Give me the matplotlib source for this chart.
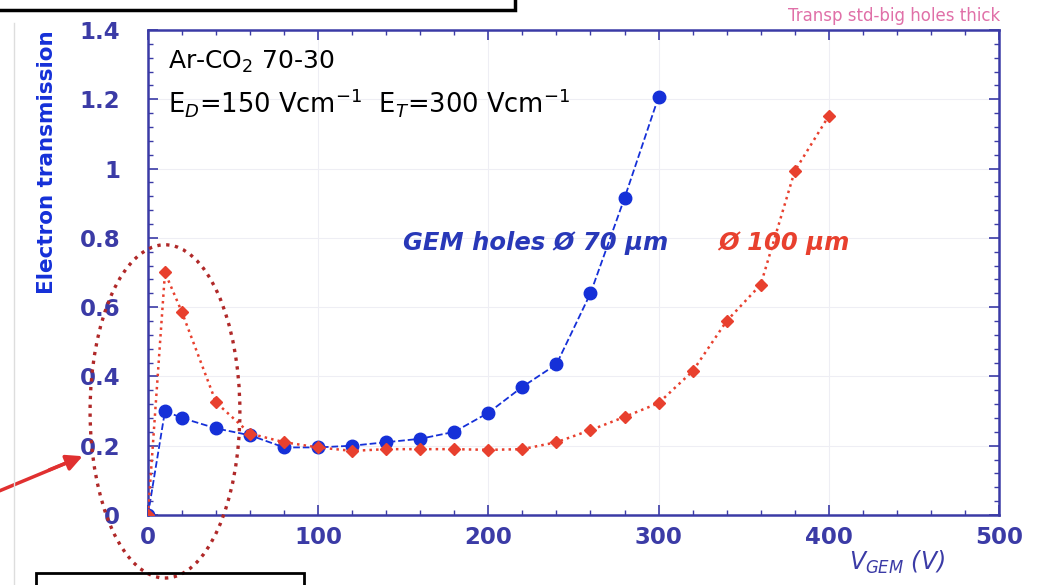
import matplotlib.pyplot as plt
from matplotlib.patches import Ellipse
from matplotlib.ticker import MultipleLocator

# V_GEM (V)
v_blue = [0, 10, 20, 40, 60, 80, 100, 120, 140, 160, 180, 200, 220, 240, 260, 280, 300]
t_blue = [0, 0.30, 0.28, 0.25, 0.23, 0.195, 0.195, 0.20, 0.21, 0.22, 0.24, 0.295, 0.37, 0.435, 0.64, 0.915, 1.207]

v_red = [0, 10, 20, 40, 60, 80, 100, 120, 140, 160, 180, 200, 220, 240, 260, 280, 300,
         320, 340, 360, 380, 400]
t_red = [0, 0.70, 0.585, 0.325, 0.235, 0.21, 0.195, 0.185, 0.19, 0.19, 0.19, 0.188, 0.19,
         0.21, 0.245, 0.283, 0.323, 0.415, 0.56, 0.665, 0.993, 1.152]

navy = '#3b3ba6'
blue = '#1530d8'
red = '#e8402e'

fig = plt.figure(figsize=(10.39, 5.85), dpi=100)
ax = fig.add_axes([0.1424, 0.1197, 0.8191, 0.829])

ax.plot(v_blue, t_blue, '--', color=blue, lw=1.3, marker='o', ms=9, zorder=3)
ax.plot(v_red, t_red, ':', color=red, lw=1.8, marker='D', ms=6, zorder=4)

ax.set_xlim(0, 500)
ax.set_ylim(0, 1.4)
ax.xaxis.set_major_locator(MultipleLocator(100))
ax.xaxis.set_minor_locator(MultipleLocator(20))
ax.yaxis.set_major_locator(MultipleLocator(0.2))
ax.yaxis.set_minor_locator(MultipleLocator(0.04))
ax.set_yticks([0, 0.2, 0.4, 0.6, 0.8, 1.0, 1.2, 1.4])
ax.set_yticklabels(['0', '0.2', '0.4', '0.6', '0.8', '1', '1.2', '1.4'])
ax.tick_params(which='both', direction='in', top=True, right=True, colors=navy)
ax.tick_params(which='major', length=7, width=1.2, labelsize=16.5)
ax.tick_params(axis='y', which='major', pad=20)
ax.tick_params(axis='x', which='major', pad=8)
ax.tick_params(which='minor', length=3.5, width=1)
for lab in ax.get_xticklabels() + ax.get_yticklabels():
    lab.set_fontweight('bold')
    lab.set_color(navy)
for s in ax.spines.values():
    s.set_color(navy)
    s.set_linewidth(1.8)
ax.grid(True, which='major', color='#eeeef4', lw=0.8)
ax.set_axisbelow(True)

fig.text(0.045, 0.723, 'Electron transmission', rotation=90, ha='center', va='center',
         fontsize=15.5, fontweight='bold', color=blue)
ax.text(0.88, -0.097, r'$V_{GEM}$ (V)', transform=ax.transAxes, ha='center', va='center',
        fontsize=17, color=navy, style='italic')

ax.text(0.024, 0.935, r'Ar-CO$_{2}$ 70-30', transform=ax.transAxes, fontsize=18, va='center')
ax.text(0.024, 0.85, r'E$_{D}$=150 Vcm$^{-1}$  E$_{T}$=300 Vcm$^{-1}$', transform=ax.transAxes,
        fontsize=18.5, va='center')
ax.text(0.3, 0.56, 'GEM holes Ø 70 μm', transform=ax.transAxes, fontsize=17.5,
        fontweight='bold', style='italic', color='#2838b8', va='center')
ax.text(0.67, 0.56, 'Ø 100 μm', transform=ax.transAxes, fontsize=17.5,
        fontweight='bold', style='italic', color=red, va='center')
fig.text(0.963, 0.973, 'Transp std-big holes thick', fontsize=12, color='#e070a8', ha='right', va='center')

# highlighted region
ell = Ellipse((10, 0.299), 88, 0.962, fill=False, ec='#b02828', ls=':', lw=2.4, clip_on=False, zorder=5)
ax.add_patch(ell)
fig.add_artist(plt.Line2D([0.001, 0.07], [0.162, 0.213], color='#e03030', lw=2.5))
ax.annotate('', xy=(0.082, 0.222), xytext=(0.045, 0.195), xycoords='figure fraction',
            textcoords='figure fraction',
            arrowprops=dict(arrowstyle='-|>', color='#e03030', lw=2.5, mutation_scale=24))

# slide boxes
fig.add_artist(plt.Rectangle((-0.01, 0.983), 0.506, 0.05, fill=False, ec='black', lw=2.5,
                             transform=fig.transFigure))
fig.add_artist(plt.Rectangle((0.035, -0.05), 0.258, 0.07, fill=False, ec='black', lw=2,
                             transform=fig.transFigure))
fig.add_artist(plt.Line2D([0.013, 0.013], [0.0, 0.96], color='#dddddd', lw=1))

fig.savefig('out.png', dpi=100)
